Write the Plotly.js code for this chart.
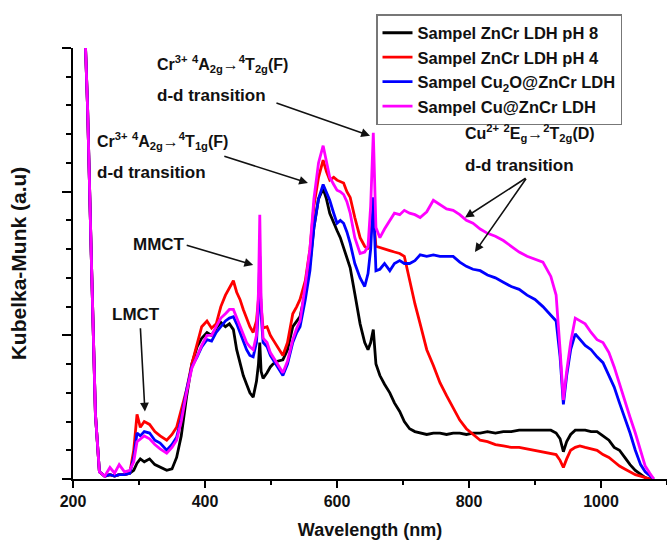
<!DOCTYPE html>
<html>
<head>
<meta charset="utf-8">
<script src="https://cdn.plot.ly/plotly-3.0.1.min.js"></script>
<style>html,body{margin:0;padding:0;background:#fff;}#chart{width:667px;height:543px;}</style>
</head>
<body>
<div id="chart"></div>
<script>
// Wavelength grid (nm)
const wavelength = [
  216, 222, 228, 234, 240, 248, 256, 263, 270, 278, 286, 292,
  297, 302, 308, 316, 324, 332, 342, 350, 357,
  364, 372, 380, 388, 395, 403, 410, 417, 424, 431, 437, 443, 448, 453, 458, 463, 468, 473, 478,
  481, 483, 485,
  488, 494, 499, 503, 510, 518, 525, 533, 539, 544,
  552, 559, 565, 572, 579, 584, 589, 595, 600, 605, 610, 615, 620, 627, 635, 642, 647,
  651, 655, 659,
  665, 672, 680, 687, 695, 702, 710, 718, 726, 736, 746, 756, 766, 776, 786, 796, 806, 817, 828, 840, 852, 864, 876, 888, 900, 912, 924, 932,
  938, 943, 948, 954, 961, 968, 976, 985, 994, 1003, 1012, 1020, 1028, 1036, 1044, 1052, 1060, 1067, 1074, 1080
];

const znCrPH8 = [
  3.4, 2.6, 1.5, 0.45, 0.05, 0.02, 0.03, 0.02, 0.03, 0.03, 0.04, 0.06,
  0.11, 0.14, 0.12, 0.14, 0.10, 0.08, 0.06, 0.07, 0.15,
  0.30, 0.57, 0.80, 0.92, 0.98, 1.02, 1.00, 1.05, 1.09, 1.06, 1.08, 1.04, 0.90, 0.80, 0.72, 0.66, 0.60, 0.57, 0.68,
  0.80, 0.95, 0.75,
  0.70, 0.74, 0.78, 0.80, 0.82, 0.83, 0.90, 1.06, 1.10, 1.13,
  1.30, 1.50, 1.75, 1.95, 2.02, 1.95, 1.85, 1.78, 1.73, 1.68, 1.61, 1.55, 1.47, 1.29, 1.08, 0.95, 0.90,
  0.95, 1.04, 0.80,
  0.72, 0.66, 0.60, 0.53, 0.47, 0.40, 0.35, 0.33, 0.32, 0.31, 0.32, 0.32, 0.31, 0.32, 0.32, 0.31, 0.32, 0.32, 0.33, 0.32, 0.33, 0.33, 0.34, 0.34, 0.34, 0.34, 0.34, 0.32,
  0.28, 0.19, 0.26, 0.31, 0.34, 0.34, 0.34, 0.33, 0.33, 0.30, 0.27, 0.22, 0.20, 0.15, 0.10, 0.06, 0.03, 0.01, 0.0, 0.0
];

const znCrPH4 = [
  3.4, 2.6, 1.5, 0.45, 0.05, 0.02, 0.03, 0.02, 0.03, 0.03, 0.04, 0.20,
  0.45, 0.36, 0.40, 0.38, 0.33, 0.30, 0.27, 0.31, 0.36,
  0.48, 0.62, 0.80, 0.95, 1.06, 1.10, 1.05, 1.08, 1.20, 1.28, 1.33, 1.38, 1.30, 1.25, 1.18, 1.12, 1.06, 1.02, 1.10,
  1.25, 1.40, 1.20,
  1.05, 1.06, 1.00, 0.97, 0.92, 0.86, 0.95, 1.15, 1.20, 1.25,
  1.38, 1.60, 1.90, 2.10, 2.22, 2.14, 2.08, 2.10, 2.08, 2.07, 2.06, 2.00, 1.96, 1.82, 1.68, 1.62, 1.60,
  1.70, 1.85, 1.62,
  1.61, 1.60, 1.59, 1.58, 1.57, 1.55, 1.38, 1.22, 1.08, 0.90, 0.79, 0.67, 0.58, 0.49, 0.41, 0.35, 0.31, 0.27, 0.26, 0.24, 0.23, 0.22, 0.22, 0.21, 0.20, 0.19, 0.18, 0.17,
  0.13, 0.08, 0.14, 0.20, 0.22, 0.23, 0.22, 0.21, 0.20, 0.17, 0.15, 0.12, 0.09, 0.07, 0.05, 0.03, 0.02, 0.01, 0.0, 0.0
];

const cu2oZnCr = [
  3.4, 2.6, 1.5, 0.45, 0.05, 0.02, 0.03, 0.02, 0.03, 0.03, 0.04, 0.15,
  0.32, 0.30, 0.33, 0.32, 0.27, 0.25, 0.20, 0.24, 0.29,
  0.42, 0.62, 0.78, 0.85, 0.92, 0.97, 0.96, 1.02, 1.06, 1.10, 1.12, 1.13, 1.08, 1.02, 0.95, 0.90, 0.86, 0.85, 0.95,
  1.20, 1.55, 1.15,
  0.95, 0.92, 0.86, 0.83, 0.78, 0.72, 0.80, 0.95, 1.02, 1.06,
  1.25, 1.45, 1.75, 1.95, 2.05, 2.00, 1.94, 1.85, 1.78, 1.80, 1.78, 1.72, 1.64, 1.50, 1.40, 1.34, 1.43,
  1.60, 1.96, 1.45,
  1.46, 1.50, 1.45, 1.50, 1.52, 1.50, 1.50, 1.52, 1.56, 1.55, 1.56, 1.55, 1.55, 1.55, 1.51, 1.48, 1.46, 1.45, 1.42, 1.40, 1.37, 1.34, 1.32, 1.28, 1.25, 1.20, 1.14, 1.10,
  0.85, 0.52, 0.72, 0.90, 1.01, 0.97, 0.93, 0.90, 0.85, 0.81, 0.72, 0.64, 0.53, 0.43, 0.32, 0.20, 0.10, 0.05, 0.02, 0.0
];

const cuZnCr = [
  3.4, 2.6, 1.5, 0.45, 0.05, 0.02, 0.08, 0.04, 0.10, 0.05, 0.06, 0.12,
  0.26, 0.28, 0.30, 0.28, 0.24, 0.21, 0.18, 0.22, 0.27,
  0.40, 0.60, 0.77, 0.86, 0.93, 1.00, 1.00, 1.06, 1.12, 1.15, 1.18, 1.18, 1.12, 1.06, 1.00, 0.95, 0.92, 0.90, 1.00,
  1.30, 1.84, 1.25,
  0.98, 0.95, 0.88, 0.85, 0.80, 0.74, 0.82, 0.97, 1.05, 1.10,
  1.35, 1.60, 1.95, 2.20, 2.32, 2.22, 2.10, 2.05, 2.01, 2.00, 1.98, 1.93, 1.85, 1.68, 1.57, 1.58, 1.62,
  1.90, 2.41, 1.75,
  1.68, 1.74, 1.80, 1.85, 1.84, 1.87, 1.85, 1.84, 1.82, 1.86, 1.94, 1.91, 1.88, 1.87, 1.84, 1.80, 1.78, 1.74, 1.71, 1.69, 1.66, 1.62, 1.58, 1.55, 1.53, 1.51, 1.41, 1.28,
  0.90, 0.55, 0.75, 0.95, 1.12, 1.10, 1.08, 1.02, 0.97, 0.95, 0.88, 0.78, 0.66, 0.55, 0.43, 0.32, 0.19, 0.09, 0.04, 0.0
];

const seriesNames = [
  'Sampel ZnCr LDH pH 8',
  'Sampel ZnCr LDH pH 4',
  'Sampel Cu<sub>2</sub>O@ZnCr LDH',
  'Sampel Cu@ZnCr LDH'
];
const seriesValues = [znCrPH8, znCrPH4, cu2oZnCr, cuZnCr];
const seriesColors = ['#000000', '#ff0000', '#0000ff', '#ff00ff'];

const xTicks = [200, 400, 600, 800, 1000];

const FONT = 'Liberation Sans, Arial, Helvetica, sans-serif';

const traces = seriesValues.map((vals, i) => ({
  type: 'scatter',
  mode: 'lines',
  x: wavelength,
  y: vals,
  name: seriesNames[i],
  line: {color: seriesColors[i], width: 2.8},
  cliponaxis: true
}));

// pixel helpers (plot area: left 73, top 48, width 594, height 431)
const PL = 73, PT = 48, PW = 594, PH = 431;
const px2paperX = px => (px - PL) / PW;
const py2paperY = py => (PT + PH - py) / PH;

const formulaFont = {family: FONT, size: 16, color: '#111', weight: 'bold'};
const annFont = {family: FONT, size: 17, color: '#111', weight: 'bold'};

function label(text, px, py, font) {
  return {
    xref: 'paper', yref: 'paper', x: px2paperX(px), y: py2paperY(py),
    xanchor: 'left', yanchor: 'middle', text: text, showarrow: false,
    font: font || annFont
  };
}
function arrow(x0, y0, x1, y1) {
  return {
    xref: 'x', yref: 'y', axref: 'x', ayref: 'y',
    x: x1, y: y1, ax: x0, ay: y0, text: '',
    showarrow: true, arrowhead: 2, arrowsize: 1.1, arrowwidth: 1.6,
    arrowcolor: '#111', standoff: 0, startstandoff: 0
  };
}

const annotations = [
  label('Cr<sup>3+</sup> <sup>4</sup>A<sub>2g</sub>\u2192<sup>4</sup>T<sub>2g</sub>(F)', 155, 64, formulaFont),
  label('d-d transition', 155, 95),
  label('Cr<sup>3+</sup> <sup>4</sup>A<sub>2g</sub>\u2192<sup>4</sup>T<sub>1g</sub>(F)', 95, 141, formulaFont),
  label('d-d transition', 95, 172),
  label('MMCT', 131, 244),
  label('LMCT', 110, 314),
  label('Cu<sup>2+</sup> <sup>2</sup>E<sub>g</sub>\u2192<sup>2</sup>T<sub>2g</sub>(D)', 463, 133, formulaFont),
  label('d-d transition', 463, 165),
  arrow(506, 2.62, 650, 2.39),
  arrow(427, 2.25, 556, 2.06),
  arrow(370, 1.63, 473, 1.49),
  arrow(302, 1.06, 309, 0.47),
  arrow(888, 2.10, 794, 1.82),
  arrow(888, 2.10, 809, 1.58)
];

const layout = {
  width: 667, height: 543,
  margin: {l: PL, r: 0, t: PT, b: 543 - PT - PH, pad: 0},
  paper_bgcolor: '#ffffff',
  plot_bgcolor: '#ffffff',
  font: {family: FONT, color: '#111'},
  showlegend: true,
  legend: {
    x: px2paperX(376), y: py2paperY(14), xanchor: 'left', yanchor: 'top',
    bgcolor: '#ffffff', bordercolor: '#777', borderwidth: 1.5,
    font: {family: FONT, size: 16.5, color: '#111', weight: 'bold'},
    itemwidth: 30, tracegroupgap: 0
  },
  xaxis: {
    range: [200, 1100],
    tickmode: 'array', tickvals: xTicks, ticktext: xTicks.map(String),
    ticks: 'outside', ticklen: 7, tickwidth: 2, tickcolor: '#000',
    minor: {dtick: 100, tick0: 0, ticks: 'outside', ticklen: 4, tickwidth: 2, tickcolor: '#000', showgrid: false},
    showline: true, linewidth: 2, linecolor: '#000',
    showgrid: false, zeroline: false,
    tickfont: {family: FONT, size: 16, color: '#111', weight: 'bold'},
    title: {text: 'Wavelength (nm)', font: {family: FONT, size: 18, color: '#111', weight: 'bold'}, standoff: 14}
  },
  // inner part of the crossing major ticks
  xaxis2: {
    overlaying: 'x', matches: 'x', anchor: 'y', side: 'bottom',
    tickmode: 'array', tickvals: xTicks,
    ticks: 'inside', ticklen: 4, tickwidth: 2, tickcolor: '#000',
    showticklabels: false, showline: false, showgrid: false, zeroline: false
  },
  yaxis: {
    range: [0, 3],
    dtick: 1, tick0: 0,
    ticks: 'outside', ticklen: 9, tickwidth: 2, tickcolor: '#000',
    minor: {dtick: 0.2, tick0: 0, ticks: 'outside', ticklen: 5, tickwidth: 2, tickcolor: '#000', showgrid: false},
    showticklabels: false,
    showline: true, linewidth: 2, linecolor: '#000',
    showgrid: false, zeroline: false,
    title: {text: 'Kubelka-Munk (a.u)', font: {family: FONT, size: 21, color: '#111', weight: 'bold'}, standoff: 30}
  },
  yaxis2: {
    overlaying: 'y', matches: 'y', anchor: 'x', side: 'left',
    dtick: 1, tick0: 0,
    ticks: 'inside', ticklen: 3, tickwidth: 2, tickcolor: '#000',
    showticklabels: false, showline: false, showgrid: false, zeroline: false
  },
  annotations: annotations
};

Plotly.newPlot('chart', traces, layout, {displayModeBar: false, staticPlot: true});
</script>
</body>
</html>
